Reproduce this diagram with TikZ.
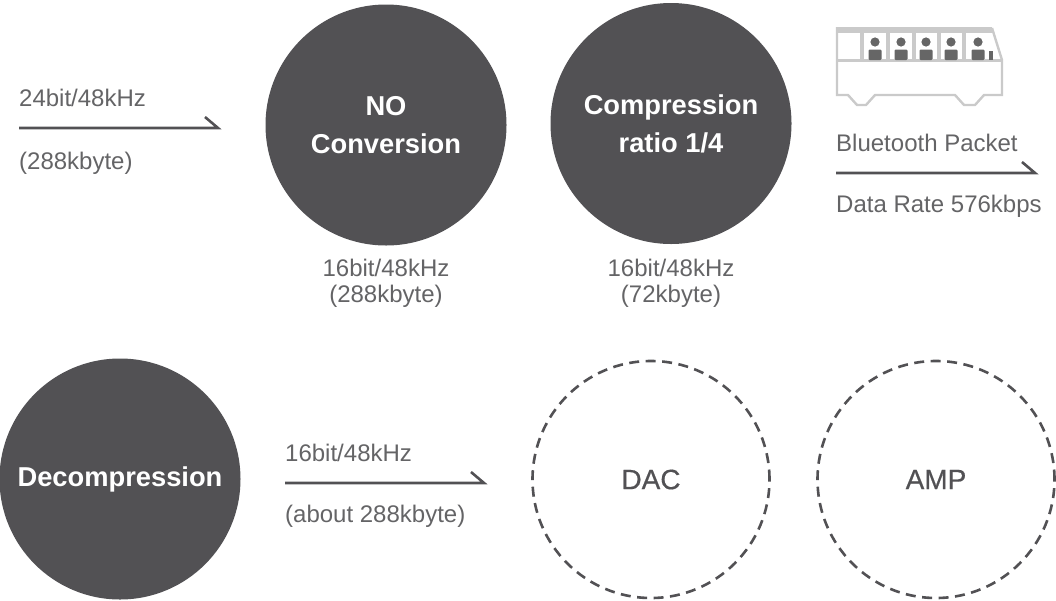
\documentclass[tikz,border=0pt]{standalone}
\usepackage{fontspec}
\setmainfont{Liberation Sans}
\newfontface\mediumface[FakeBold=0.5]{Liberation Sans}
\definecolor{disc}{HTML}{525154}
\definecolor{ink}{HTML}{646466}
\definecolor{busline}{HTML}{CACACA}
\definecolor{seat}{HTML}{666666}
\tikzset{
  solidcirc/.style={circle,fill=disc,minimum size=241pt,inner sep=0pt,text=white,align=center,font=\fontsize{27.3}{38}\selectfont\bfseries},
  dashcirc/.style={circle,draw=disc,line width=2.6pt,dash pattern=on 10pt off 6.5pt,minimum size=237pt,inner sep=0pt,text=disc,font=\fontsize{28}{34}\selectfont\mediumface},
  lbl/.style={text=ink,anchor=west,inner sep=0pt,font=\fontsize{24}{27}\selectfont},
  caption/.style={text=ink,align=center,inner sep=0pt,font=\fontsize{24}{26}\selectfont},
  halfarrow/.style={draw=disc,line width=2.6pt,line cap=butt,line join=miter},
  busstroke/.style={draw=busline,line width=2.4pt}
}
\newcommand{\halfflow}[2]{\draw[halfarrow] (#1) -- (#2) -- ++(-13,-11);}
\newcommand{\passenger}[1]{%
  \fill[seat] (#1,42) circle (4.6);
  \fill[seat,rounded corners=1.2pt] (#1-6.5,60) rectangle (#1+6.5,49.5);
}
\begin{document}
\begin{tikzpicture}[x=1pt,y=-1pt]
\useasboundingbox (0,0) rectangle (1056,600);
% processing stages
\node[solidcirc] (noconv) at (386,125) {NO\\Conversion};
\node[solidcirc,minimum size=241pt] (comp) at (671,123.5) {Compression\\ratio 1/4};
\node[solidcirc] (decomp) at (120,479) {Decompression};
\node[dashcirc] (dac) at (651,479.5) {DAC};
\node[dashcirc] (amp) at (936,479.5) {AMP};
% signal flow arrows
\coordinate (a1s) at (19,128); \coordinate (a1e) at (218,128);
\coordinate (a2s) at (836,173); \coordinate (a2e) at (1035,173);
\coordinate (a3s) at (285,483); \coordinate (a3e) at (484,483);
\halfflow{a1s}{a1e}
\halfflow{a2s}{a2e}
\halfflow{a3s}{a3e}
% labels
\node[lbl] (t1) at (19,98) {24bit/48kHz};
\node[lbl] (t2) at (19,163) {(288kbyte)};
\node[lbl] (t3) at (836,143) {Bluetooth Packet};
\node[lbl] (t4) at (836,206.5) {Data Rate 576kbps};
\node[lbl] (t5) at (285,453) {16bit/48kHz};
\node[lbl] (t6) at (285,516.5) {(about 288kbyte)};
\node[caption] (c1) at (386,283) {16bit/48kHz\\(288kbyte)};
\node[caption] (c2) at (671,283) {16bit/48kHz\\(72kbyte)};
% bus carrying the packets
\draw[busstroke,line width=6pt] (837,30) -- (992,30);
\draw[busstroke] (837,27) -- (837,95) -- (848,95) -- (857,105) -- (866,105) -- (875,95)
  -- (955,95) -- (964,105) -- (975,105) -- (984,95) -- (1002,95) -- (1002,60) -- (992,28);
\draw[busstroke,line width=3pt] (837,60) -- (1002,60);
\foreach \wx in {862,888,914,939,964} \draw[busstroke,line width=3.5pt] (\wx,30) -- (\wx,60);
\foreach \px in {875,901,926,951,978} \passenger{\px}
\fill[seat] (989,51) rectangle (992.5,60);
\end{tikzpicture}
\end{document}
